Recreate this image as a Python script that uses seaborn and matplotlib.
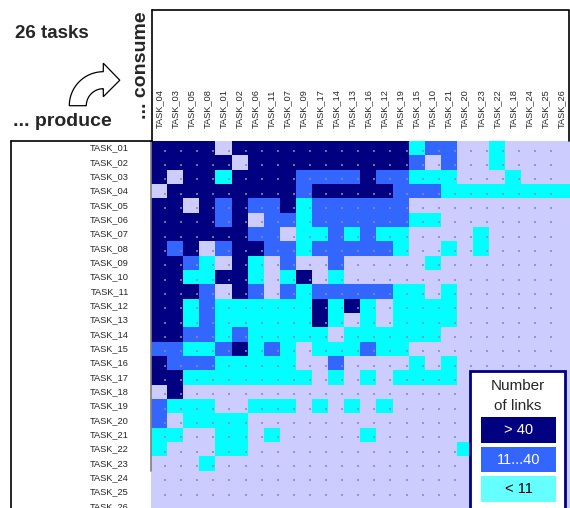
import numpy as np
import pandas as pd
import matplotlib
matplotlib.use("Agg")
import matplotlib.pyplot as plt
import matplotlib.patches as mpatches
from matplotlib.colors import ListedColormap
import seaborn as sns

# Producing tasks (rows) and consuming tasks (columns, clustered order)
producers = [f"TASK_{i:02d}" for i in range(1, 27)]
consumers = ["TASK_04", "TASK_03", "TASK_05", "TASK_08", "TASK_01", "TASK_02",
             "TASK_06", "TASK_11", "TASK_07", "TASK_09", "TASK_17", "TASK_14",
             "TASK_13", "TASK_16", "TASK_12", "TASK_19", "TASK_15", "TASK_10",
             "TASK_21", "TASK_20", "TASK_23", "TASK_22", "TASK_18", "TASK_24",
             "TASK_25", "TASK_26"]

# Link level per cell: 0 = none, 1 = < 11, 2 = 11...40, 3 = > 40
link_levels = [
    "33330333333333331220010000",
    "33333033333333332020010000",
    "30331333322223221110001000",
    "03333333323333322211111111",
    "33032322312222220000000000",
    "33332302212222221100000000",
    "33333322011212110000100000",
    "32302332212222210010100000",
    "33210310200200000100000000",
    "33113310130100000000000000",
    "33320320212222211010000000",
    "33121111113131011110000000",
    "33121111113101011110000000",
    "33221211111011111100000000",
    "22112312101112110000000000",
    "32221111100200001010000000",
    "33111111110101011110000000",
    "03000000000000000000000000",
    "21110011101010100000000000",
    "20111100000000000000000000",
    "11001101000001000000000000",
    "10001100000000000001000000",
    "00010000000000000000000000",
    "00000000000000000000000000",
    "00000000000000000000000000",
    "00000000000000000000000000",
]

level_labels = ["> 40", "11...40", "< 11"]
cell_colors = ["#CCCCFF", "#00FFFF", "#3366FF", "#000080"]
legend_colors = ["#000080", "#3366FF", "#66FFFF"]
legend_text_colors = ["white", "white", "black"]

sns.set_style("white")
plt.rcParams["font.family"] = ["Liberation Sans", "DejaVu Sans"]

matrix = np.array([[int(c) for c in row] for row in link_levels])
df = pd.DataFrame(matrix, index=producers, columns=consumers)

W, H = 570, 508
fig = plt.figure(figsize=(W / 100, H / 100), dpi=100)
fig.patch.set_facecolor("white")

# Heatmap area (pixel-based placement; last row runs off the bottom edge)
x0, y0, cw, rh = 151, 141, 16.1, 14.33
ax = fig.add_axes([x0 / W, 1 - (y0 + 26 * rh) / H, 26 * cw / W, 26 * rh / H])
sns.heatmap(df, cmap=ListedColormap(cell_colors), vmin=-0.5, vmax=3.5,
            cbar=False, ax=ax, xticklabels=consumers, yticklabels=producers,
            linewidths=0)
ax.xaxis.tick_top()
ax.tick_params(axis="x", length=0, pad=9, labelsize=6.7, labelrotation=90)
ax.tick_params(axis="y", length=0, pad=16, labelsize=6.7, labelrotation=0)
ax.set_xlabel("")
ax.set_ylabel("")
for s in ax.spines.values():
    s.set_visible(False)

# faint dotted grid marks inside the cells
gx, gy = np.meshgrid(np.arange(1, 26) - 0.13, np.arange(26) + 0.67)
ax.scatter(gx.ravel(), gy.ravel(), marker="s", s=1.2, linewidths=0,
           color="#8a8ab4", alpha=0.8, zorder=3)
ax.plot([0.02, 0.02], [0, 23], color="#808080", lw=1.2, zorder=4,
        clip_on=False)

# Overlay in pixel coordinates for frames, titles, arrow and legend
ov = fig.add_axes([0, 0, 1, 1], facecolor="none")
ov.set_xlim(0, W)
ov.set_ylim(H, 0)
ov.axis("off")

lw = 1.2
ov.plot([152, 569, 569], [10, 10, 141], color="black", lw=lw)
ov.plot([152, 152], [10, 141], color="black", lw=lw)
ov.plot([11, 152], [141, 141], color="black", lw=lw)
ov.plot([11, 11], [141, H], color="black", lw=lw)

ov.text(15, 34, "26 tasks", fontsize=13.5, fontweight="bold",
        ha="left", va="center")
ov.text(13, 122, "... produce", fontsize=14, fontweight="bold",
        ha="left", va="center")
ov.text(141, 65, "... consume", fontsize=14, fontweight="bold",
        ha="center", va="center", rotation=90)

# Curved outline arrow: quarter-ring shaft plus triangular head
cx, cy, r_out, r_in = 103.3, 105.7, 34.0, 17.0
t = np.linspace(np.pi, np.pi / 2, 40)
outer = np.column_stack([cx + r_out * np.cos(t), cy - r_out * np.sin(t)])
inner = np.column_stack([cx + r_in * np.cos(t[::-1]),
                         cy - r_in * np.sin(t[::-1])])
head = np.array([[cx, cy - r_out - 8.5], [cx + 16.5, cy - (r_out + r_in) / 2],
                 [cx, cy - r_in + 8.0]])
arrow_pts = np.vstack([outer, head, inner])
ov.add_patch(mpatches.Polygon(arrow_pts, closed=True, facecolor="white",
                              edgecolor="black", lw=0.9, joinstyle="miter"))

# Legend box
ov.add_patch(mpatches.Rectangle((470, 371), 95, 150, facecolor="white",
                                edgecolor="#000080", lw=2, zorder=5))
ov.text(518, 386, "Number", fontsize=11, ha="center", va="center", zorder=6)
ov.text(518, 406, "of links", fontsize=11, ha="center", va="center", zorder=6)
for k, (lab, fc, tc) in enumerate(zip(level_labels, legend_colors,
                                      legend_text_colors)):
    top = 417 + k * 29.5
    ov.add_patch(mpatches.Rectangle((481, top), 75, 25.5, facecolor=fc,
                                    edgecolor="none", zorder=6))
    ov.text(518.5, top + 13, lab, fontsize=10.5, color=tc, ha="center",
            va="center", zorder=7)

fig.savefig("out.png", dpi=100)
